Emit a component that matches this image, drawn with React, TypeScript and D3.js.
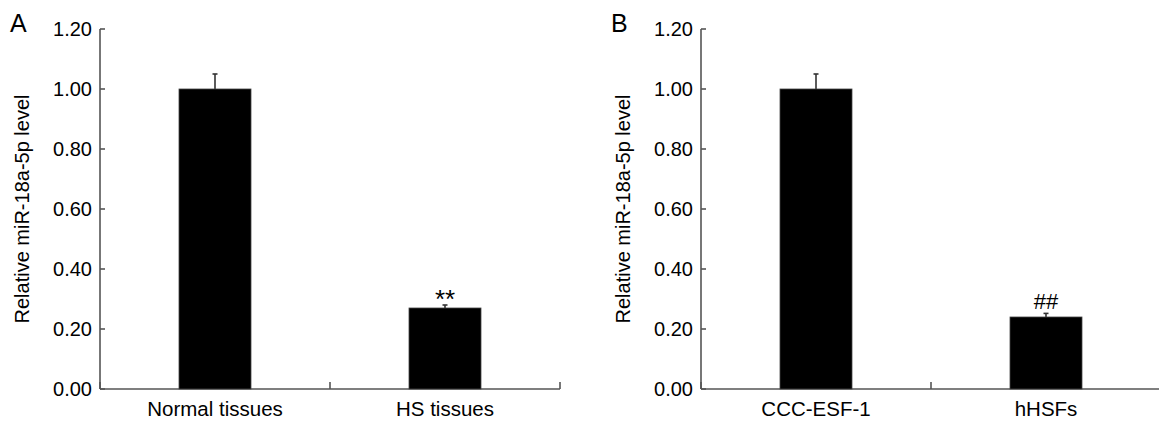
import React, { useEffect, useRef } from "react";
import * as d3 from "d3";

// panel A: tissues, panel B: cell lines
const categoriesA = ["Normal tissues", "HS tissues"];
const valuesA = [1.0, 0.27];
const errorsA = [0.05, 0.01];
const marksA = ["", "**"];

const categoriesB = ["CCC-ESF-1", "hHSFs"];
const valuesB = [1.0, 0.24];
const errorsB = [0.05, 0.012];
const marksB = ["", "##"];

const yTicks = [0, 0.2, 0.4, 0.6, 0.8, 1.0, 1.2];
const yTitle = "Relative miR-18a-5p level";

const W = 1159;
const H = 422;
const FONT = "'Liberation Sans', Arial, Helvetica, sans-serif";

type Panel = {
  letter: string;
  left: number;
  categories: string[];
  values: number[];
  errors: number[];
  marks: string[];
};

const panels: Panel[] = [
  { letter: "A", left: 100, categories: categoriesA, values: valuesA, errors: errorsA, marks: marksA },
  { letter: "B", left: 701, categories: categoriesB, values: valuesB, errors: errorsB, marks: marksB },
];

const App = () => {
  const svgRef = useRef<SVGSVGElement>(null);

  useEffect(() => {
    const svg = d3.select(svgRef.current);
    svg.selectAll("*").remove();

    const yScale = d3.scaleLinear().domain([0, 1.2]).range([389, 29]);
    const axisColor = "#555";

    panels.forEach((p) => {
      const g = svg.append("g");
      const xScale = d3
        .scaleBand()
        .domain(p.categories)
        .range([p.left, p.left + 460])
        .paddingInner(0.687)
        .paddingOuter(0.3435);
      const step = xScale.step();
      const bw = xScale.bandwidth();
      const y0 = yScale(0);

      // panel letter
      g.append("text")
        .attr("x", p.left - 90)
        .attr("y", 32)
        .attr("font-family", FONT)
        .attr("font-size", 25)
        .attr("fill", "#000")
        .text(p.letter);

      // y title
      g.append("text")
        .attr("transform", `translate(${p.left - 71}, ${yScale(0.6)}) rotate(-90)`)
        .attr("text-anchor", "middle")
        .attr("font-family", FONT)
        .attr("font-size", 20)
        .attr("fill", "#000")
        .text(yTitle);

      // y axis
      g.append("line")
        .attr("x1", p.left).attr("x2", p.left)
        .attr("y1", yScale(1.2)).attr("y2", y0)
        .attr("stroke", axisColor).attr("stroke-width", 1.6);
      yTicks.forEach((t) => {
        g.append("line")
          .attr("x1", p.left).attr("x2", p.left + 5)
          .attr("y1", yScale(t)).attr("y2", yScale(t))
          .attr("stroke", axisColor).attr("stroke-width", 1.6);
        g.append("text")
          .attr("x", p.left - 8)
          .attr("y", yScale(t))
          .attr("dy", "0.36em")
          .attr("text-anchor", "end")
          .attr("font-family", FONT)
          .attr("font-size", 20)
          .attr("fill", "#000")
          .text(t.toFixed(2));
      });

      // x axis
      g.append("line")
        .attr("x1", p.left).attr("x2", p.left + 460)
        .attr("y1", y0).attr("y2", y0)
        .attr("stroke", axisColor).attr("stroke-width", 1.6);
      d3.range(p.categories.length + 1).forEach((i) => {
        const x = p.left + i * step;
        g.append("line")
          .attr("x1", x).attr("x2", x)
          .attr("y1", y0).attr("y2", y0 - 7)
          .attr("stroke", axisColor).attr("stroke-width", 1.6);
      });

      // bars
      p.categories.forEach((c, i) => {
        const x = xScale(c) as number;
        const cx = x + bw / 2;
        const v = p.values[i];
        const top = yScale(v + p.errors[i]);

        g.append("line")
          .attr("x1", cx).attr("x2", cx)
          .attr("y1", yScale(v)).attr("y2", top)
          .attr("stroke", "#333").attr("stroke-width", 1.6);
        g.append("line")
          .attr("x1", cx - 2.5).attr("x2", cx + 2.5)
          .attr("y1", top).attr("y2", top)
          .attr("stroke", "#333").attr("stroke-width", 1.6);

        g.append("rect")
          .attr("x", x)
          .attr("y", yScale(v))
          .attr("width", bw)
          .attr("height", y0 - yScale(v))
          .attr("fill", "#000")
          .attr("stroke", "#444")
          .attr("stroke-width", 0.8);

        if (p.marks[i]) {
          const isStar = p.marks[i].includes("*");
          g.append("text")
            .attr("x", cx)
            .attr("y", isStar ? top + 3 : top - 4)
            .attr("text-anchor", "middle")
            .attr("font-family", FONT)
            .attr("font-size", isStar ? 26 : 22)
            .attr("fill", "#000")
            .text(p.marks[i]);
        }

        g.append("text")
          .attr("x", cx)
          .attr("y", 416)
          .attr("text-anchor", "middle")
          .attr("font-family", FONT)
          .attr("font-size", 20.5)
          .attr("fill", "#000")
          .text(c);
      });
    });
  }, []);

  return (
    <svg
      ref={svgRef}
      width={W}
      height={H}
      style={{ position: "absolute", left: 0, top: 0, background: "#fff" }}
    />
  );
};

export default App;
